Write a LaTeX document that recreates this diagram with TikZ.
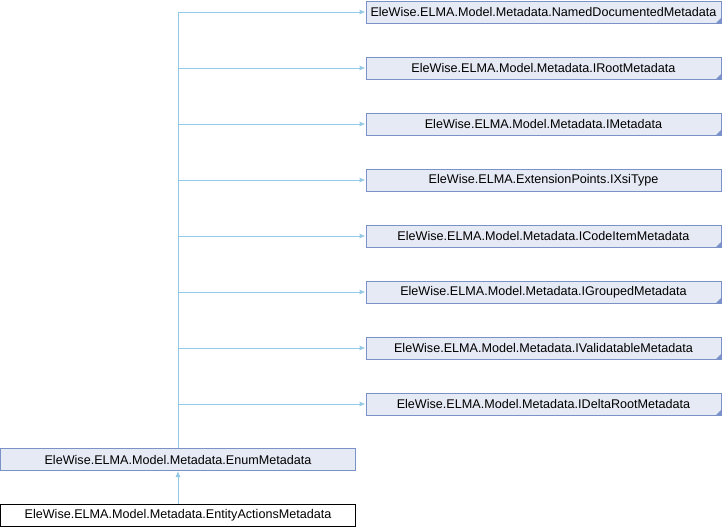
\documentclass[tikz,border=0pt]{standalone}
\usepackage{fontspec}
\setmainfont{Liberation Sans}
\usetikzlibrary{arrows.meta}
\definecolor{boxfill}{HTML}{E6EAF4}
\definecolor{boxdraw}{HTML}{7A92C8}
\definecolor{edgecol}{HTML}{92C8E8}
\tikzset{
  box/.style={draw=boxdraw, fill=boxfill, line width=1pt, minimum width=355pt, minimum height=22pt, inner sep=0pt, font=\fontsize{12.6pt}{14pt}\selectfont},
  mainbox/.style={box, draw=black, fill=white},
  folded/.style={path picture={\fill[boxdraw] ([xshift=-5pt]path picture bounding box.south east) -- (path picture bounding box.south east) -- ([yshift=5pt]path picture bounding box.south east) -- cycle;}},
  edge/.style={draw=edgecol, line width=1pt, -{Latex[length=6pt,width=5pt]}}
}
\begin{document}
\begin{tikzpicture}[x=1pt,y=1pt]
\useasboundingbox (0,0) rectangle (722,-528);
\node[box,folded] (b1) at (543.5,-12) {EleWise.ELMA.Model.Metadata.NamedDocumentedMetadata};
\node[box,folded] (b2) at (543.5,-68) {EleWise.ELMA.Model.Metadata.IRootMetadata};
\node[box,folded] (b3) at (543.5,-124) {EleWise.ELMA.Model.Metadata.IMetadata};
\node[box] (b4) at (543.5,-180) {EleWise.ELMA.ExtensionPoints.IXsiType};
\node[box,folded] (b5) at (543.5,-236) {EleWise.ELMA.Model.Metadata.ICodeItemMetadata};
\node[box,folded] (b6) at (543.5,-292) {EleWise.ELMA.Model.Metadata.IGroupedMetadata};
\node[box,folded] (b7) at (543.5,-348) {EleWise.ELMA.Model.Metadata.IValidatableMetadata};
\node[box,folded] (b8) at (543.5,-404) {EleWise.ELMA.Model.Metadata.IDeltaRootMetadata};
\node[box] (enum) at (178,-459.5) {EleWise.ELMA.Model.Metadata.EnumMetadata};
\node[mainbox] (ent) at (178,-515.5) {EleWise.ELMA.Model.Metadata.EntityActionsMetadata};
\foreach \n in {b1,b2,b3,b4,b5,b6,b7,b8}{
  \draw[edge] (enum.north) |- (\n.west);
}
\draw[edge] (ent.north) -- (enum.south);
\end{tikzpicture}
\end{document}
